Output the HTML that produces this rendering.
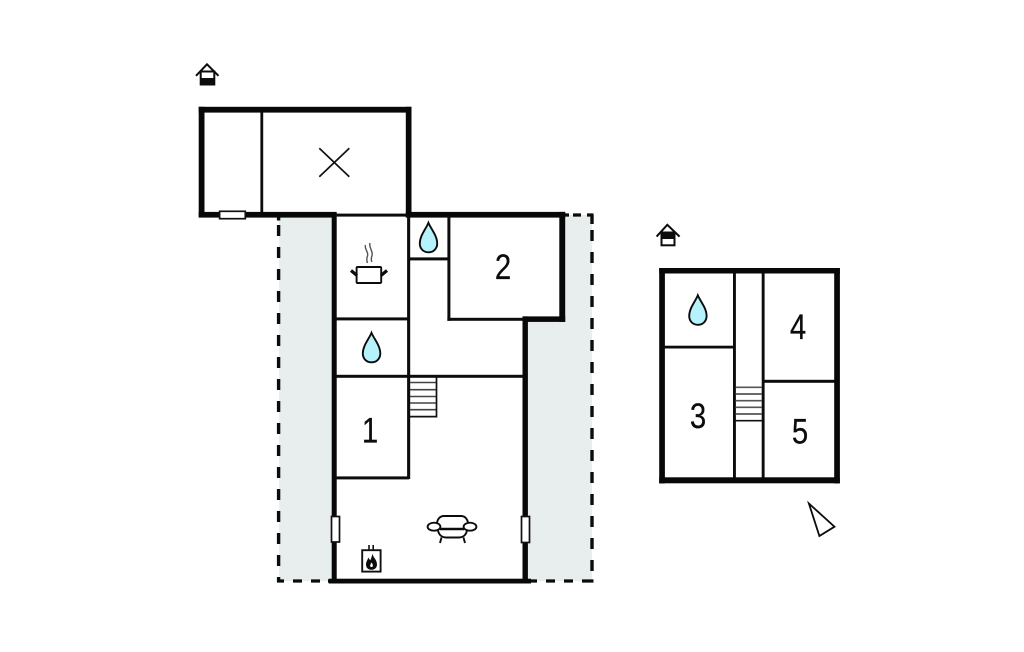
<!DOCTYPE html>
<html>
<head>
<meta charset="utf-8">
<style>
html,body{margin:0;padding:0;background:#fff;width:1024px;height:652px;overflow:hidden}
svg{display:block}
text{font-family:"Liberation Sans",sans-serif;font-size:35px;fill:#0c0c0c;text-anchor:middle;stroke:#0c0c0c;stroke-width:.25}
</style>
</head>
<body>
<svg width="1024" height="652" viewBox="0 0 1024 652" xmlns="http://www.w3.org/2000/svg">
<rect width="1024" height="652" fill="#fff"/>

<!-- terrace fills -->
<rect x="279" y="217" width="53" height="364" fill="#e8eeed"/>
<path d="M527.5 321.5H565V215H592V581H527.5Z" fill="#e8eeed"/>

<!-- dashed outlines -->
<g fill="none" stroke="#0c0c0c">
<path d="M278.6 225V582" stroke-width="3.4" stroke-dasharray="11 11"/>
<path d="M278.6 217V220.5" stroke-width="3.4"/>
<path d="M592 230V582" stroke-width="3.4" stroke-dasharray="11 11"/>
<path d="M592 215V224" stroke-width="3.4"/>
<path d="M277 581H284M293 581H302M311 581H320" stroke-width="3.2"/>
<path d="M328 581H332M528 581H537M546 581H555M564 581H573M582 581H593.5" stroke-width="3.2"/>
<path d="M565 215H569M573 215H581M587 215H593.5" stroke-width="3.2"/>
</g>

<!-- thick walls -->
<g fill="#080808">
<!-- garage -->
<rect x="198.7" y="106.8" width="212.8" height="5.8"/>
<rect x="198.7" y="106.8" width="5.8" height="110.7"/>
<rect x="405.8" y="106.8" width="5.7" height="110.7"/>
<rect x="198.7" y="211.9" width="137.8" height="5.7"/>
<!-- main -->
<rect x="331.7" y="212" width="5" height="371.3"/>
<rect x="405.8" y="211.9" width="159.4" height="5.7"/>
<rect x="559.3" y="211.9" width="5.9" height="110"/>
<rect x="522.5" y="316.4" width="42.7" height="5.5"/>
<rect x="522.5" y="316.4" width="5.4" height="266.9"/>
<rect x="328.7" y="578.7" width="202.3" height="4.8"/>
<!-- upper floor -->
<rect x="659.2" y="268" width="180.6" height="5.5"/>
<rect x="659.2" y="268" width="5.7" height="215.4"/>
<rect x="834.2" y="268" width="5.7" height="215.4"/>
<rect x="659.2" y="477.3" width="180.6" height="6"/>
</g>

<!-- thin walls -->
<g fill="#0c0c0c">
<rect x="260.4" y="112" width="2.8" height="100"/>
<rect x="336" y="213.6" width="71" height="3"/>
<rect x="407.1" y="216" width="3.1" height="263"/>
<rect x="336" y="317.4" width="72" height="3"/>
<rect x="408" y="257.4" width="41" height="3"/>
<rect x="447.4" y="216" width="3" height="104.8"/>
<rect x="447.4" y="317.8" width="76" height="3"/>
<rect x="336" y="374.8" width="188" height="3"/>
<rect x="336" y="476.4" width="73" height="3"/>
<rect x="733" y="273" width="2.9" height="205"/>
<rect x="761.7" y="273" width="2.9" height="205"/>
<rect x="664" y="345.7" width="70" height="2.8"/>
<rect x="763" y="379.8" width="72" height="3"/>
</g>

<!-- stairs main -->
<g stroke="#444" stroke-width="1.6" fill="none">
<path d="M410 382.5H436M410 389.7H436M410 396.5H436M410 403H436M410 409.7H436"/>
</g>
<path d="M410 416.6H436.5V377" fill="none" stroke="#111" stroke-width="1.7"/>
<!-- stairs upper -->
<g stroke="#555" stroke-width="1.7" fill="none">
<path d="M735.5 387.3H762M735.5 394H762M735.5 400.7H762M735.5 407.3H762M735.5 414H762"/>
</g>
<path d="M735.5 420.7H762" stroke="#111" stroke-width="1.7"/>

<!-- windows -->
<g fill="#fff" stroke="#111" stroke-width="1.7">
<rect x="219.6" y="211.3" width="25.7" height="7.4"/>
<rect x="331.5" y="516.5" width="8" height="25.5"/>
<rect x="521.5" y="516.5" width="8" height="26"/>
</g>

<!-- X -->
<path d="M319.3 148.3L349.3 176.7M349.3 148.3L319.3 176.7" stroke="#111" stroke-width="1.7" fill="none"/>

<!-- house icon 1 -->
<path d="M196 75.8L207 64.3L218.5 75.8" fill="none" stroke="#0c0c0c" stroke-width="2"/>
<rect x="200.7" y="71.5" width="13.6" height="13" fill="#fff" stroke="#0c0c0c" stroke-width="2"/>
<rect x="200.5" y="78" width="14" height="6.5" fill="#0c0c0c"/>
<!-- house icon 2 -->
<path d="M656.6 236.6L667.3 224.8L679.6 236.6" fill="none" stroke="#0c0c0c" stroke-width="2"/>
<rect x="661.5" y="232.5" width="13" height="12.8" fill="#fff" stroke="#0c0c0c" stroke-width="2"/>
<rect x="661.5" y="232.5" width="13" height="6.5" fill="#0c0c0c"/>

<!-- drops -->
<g fill="#b5f2fb" stroke="#0c0c0c" stroke-width="1.9">
<path d="M428.4 222.8C431 229 437.2 235.5 437.2 243.5C437.2 248.8 433.3 252.3 428.4 252.3C423.5 252.3 419.8 248.8 419.8 243.5C419.8 235.5 426 229 428.4 222.8Z"/>
<path d="M371.5 332.8C374 339 380.3 345.5 380.3 353.5C380.3 358.8 376.4 362.3 371.5 362.3C366.6 362.3 362.8 358.8 362.8 353.5C362.8 345.5 369 339 371.5 332.8Z"/>
<path d="M697.8 295.3C700.4 301.5 706.6 308 706.6 316C706.6 321.3 702.7 324.8 697.8 324.8C692.9 324.8 689.2 321.3 689.2 316C689.2 308 695.4 301.5 697.8 295.3Z"/>
</g>

<!-- pot -->
<rect x="356.6" y="267" width="24.6" height="16" rx="1" fill="#fff" stroke="#0c0c0c" stroke-width="1.9"/>
<path d="M351 270.5L357 275.5M387 270.5L381 275.5" stroke="#0c0c0c" stroke-width="3.2" fill="none"/>
<g fill="none" stroke="#555" stroke-width="1.4">
<path d="M365.5 245C364 249 369 252 367.5 256C366.5 258.5 366.5 260.5 367.5 263"/>
<path d="M370 243C368.5 248 373.5 251 372 255.5C371 258.5 371 260.5 372 262"/>
</g>

<!-- sofa -->
<g fill="none" stroke="#0c0c0c" stroke-width="1.9">
<path d="M437 523C437.5 519 440 516 444 516H461C465 516 467.5 519 468 523"/>
<path d="M438 530.5C439 535 442 537.5 446 537.5H459C463 537.5 466 535 467 530.5"/>
<ellipse cx="434" cy="526.7" rx="6.4" ry="4" fill="#fff"/>
<ellipse cx="470" cy="526.7" rx="6.4" ry="4" fill="#fff"/>
<path d="M440 529H464" stroke-width="2.6"/>
<path d="M441.5 537.5L440 543M463.5 537.5L465 543"/>
</g>

<!-- stove -->
<rect x="362.2" y="550.2" width="18.4" height="21.4" fill="#fff" stroke="#111" stroke-width="1.9"/>
<path d="M369 545V550M373.2 545V550" stroke="#111" stroke-width="1.6"/>
<path d="M372.3 553.5C372.8 557 377 559.5 377 564.5C377 567.8 374.6 569.8 371.5 569.8C368.2 569.8 366 567.8 366 564.5C366 561.5 367.6 560 368.4 557.5C369.2 558.8 369.8 560 370.3 560.3C371.3 558.3 372 556 372.3 553.5Z" fill="#0c0c0c"/>
<path d="M371.5 562.5C372.7 564 373 565 372.8 566.2C372.4 567.2 370.6 567.2 370.2 566.2C370 565 370.7 564 371.5 562.5Z" fill="#fff"/>

<!-- compass -->
<path d="M808.9 503.5L834.5 526.7L819.4 536Z" fill="#fff" stroke="#0c0c0c" stroke-width="1.8" stroke-linejoin="miter"/>

<!-- labels -->
<text transform="translate(503 279) scale(.84 1)">2</text>
<text transform="translate(370 442.5) scale(.84 1)">1</text>
<text transform="translate(698 428) scale(.84 1)">3</text>
<text transform="translate(798 339) scale(.84 1)">4</text>
<text transform="translate(800 443.5) scale(.84 1)">5</text>
</svg>
</body>
</html>
